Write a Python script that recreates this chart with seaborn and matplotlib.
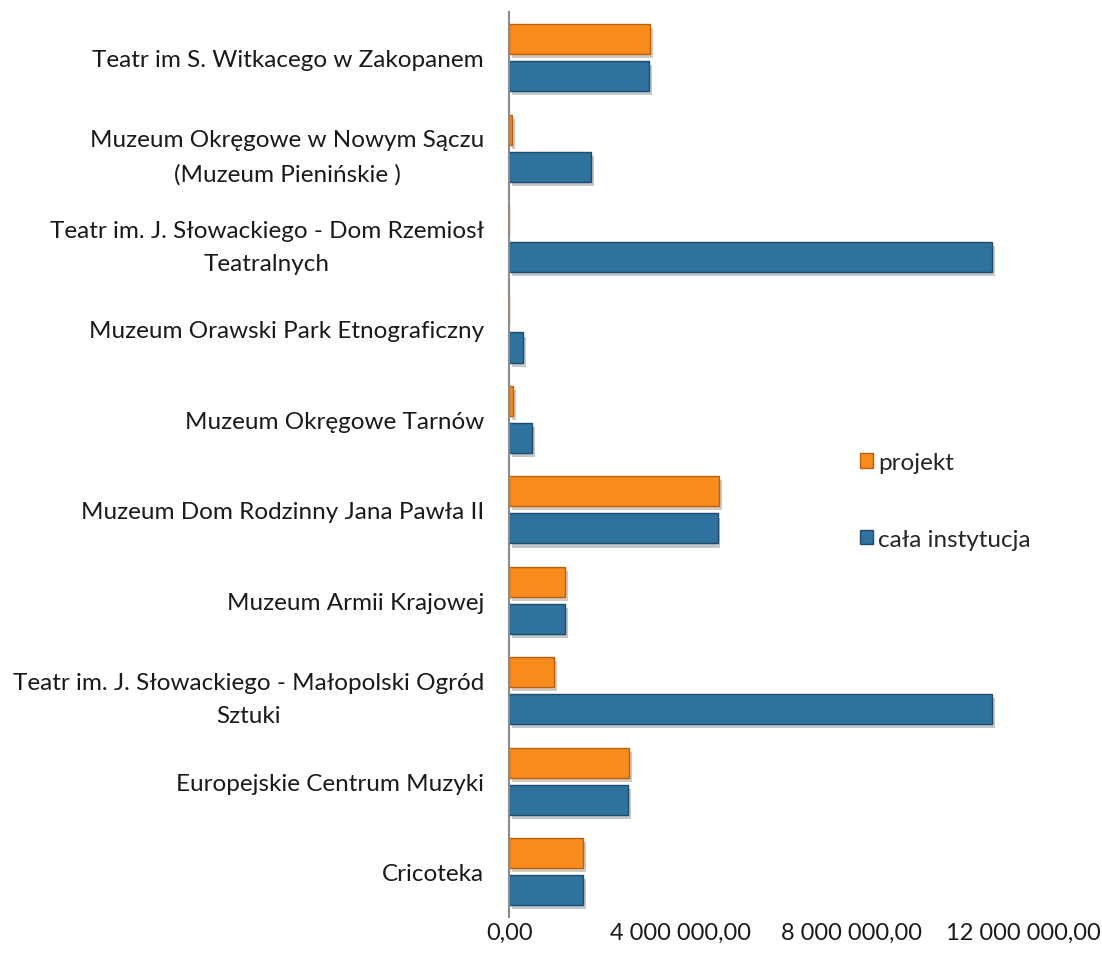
import matplotlib
matplotlib.use("Agg")
import matplotlib.pyplot as plt
import matplotlib.patheffects as pe
from matplotlib.ticker import FuncFormatter
import pandas as pd
import seaborn as sns

# Data (in PLN)
categories = [
    "Teatr im S. Witkacego w Zakopanem",
    "Muzeum Okręgowe w Nowym Sączu\n(Muzeum Pienińskie )",
    "Teatr im. J. Słowackiego - Dom Rzemiosł\nTeatralnych",
    "Muzeum Orawski Park Etnograficzny",
    "Muzeum Okręgowe Tarnów",
    "Muzeum Dom Rodzinny Jana Pawła II",
    "Muzeum Armii Krajowej",
    "Teatr im. J. Słowackiego - Małopolski Ogród\nSztuki",
    "Europejskie Centrum Muzyki",
    "Cricoteka",
]
projekt = [3290000, 70000, 0, 0, 90000, 4900000, 1310000, 1050000, 2800000, 1720000]
cala_instytucja = [3260000, 1910000, 11280000, 330000, 540000, 4870000, 1310000, 11280000, 2770000, 1720000]
series_names = ["projekt", "cała instytucja"]
colors = ["#F98A1C", "#2F729E"]
edge_colors = ["#B8600F", "#1E4C6E"]
x_ticks = [0, 4000000, 8000000, 12000000]

df = pd.DataFrame({
    "kategoria": categories * 2,
    "seria": [series_names[0]] * len(categories) + [series_names[1]] * len(categories),
    "wartosc": projekt + cala_instytucja,
})

sns.set_style("white")
plt.rcParams["font.family"] = ["Lato", "DejaVu Sans"]

fig = plt.figure(figsize=(11.02, 9.62), dpi=100)
ax = fig.add_axes([0.462, 0.046, 0.4664, 0.94])

sns.barplot(
    data=df, x="wartosc", y="kategoria", hue="seria",
    order=categories, hue_order=series_names, palette=colors, saturation=1,
    orient="h", width=0.82, gap=0.19, ax=ax, legend=True,
)

# edge + soft shadow, roughly like the bevelled Excel bars
for container, ec in zip(ax.containers, edge_colors):
    for bar in container:
        bar.set_edgecolor(ec)
        bar.set_linewidth(1.0)
        bar.set_path_effects([pe.SimplePatchShadow(offset=(2, -3), alpha=0.25), pe.Normal()])

ax.set_xlim(0, 12000000)
ax.set_xticks(x_ticks)
ax.xaxis.set_major_formatter(FuncFormatter(lambda v, p: f"{v:,.2f}".replace(",", " ").replace(".", ",")))
ax.set_xlabel("")
ax.set_ylabel("")

for side in ["top", "right", "bottom"]:
    ax.spines[side].set_visible(False)
ax.spines["left"].set_color("#8C8C8C")
ax.spines["left"].set_linewidth(1.5)

ax.tick_params(axis="x", length=0, pad=4, labelsize=17, colors="#1A1A1A")
ax.tick_params(axis="y", length=0, pad=18, labelsize=17.5, colors="#1A1A1A")
for lbl in ax.get_yticklabels():
    lbl.set_multialignment("center")
    lbl.set_linespacing(1.75)

leg = ax.legend(
    loc="center left", bbox_to_anchor=(0.64, 0.46), frameon=False,
    fontsize=17.5, handlelength=0.55, handleheight=0.55, handletextpad=0.2,
    labelspacing=2.3,
)
for h, ec in zip(leg.legend_handles, edge_colors):
    h.set_edgecolor(ec)

plt.savefig("out.png", dpi=100)
plt.close()
